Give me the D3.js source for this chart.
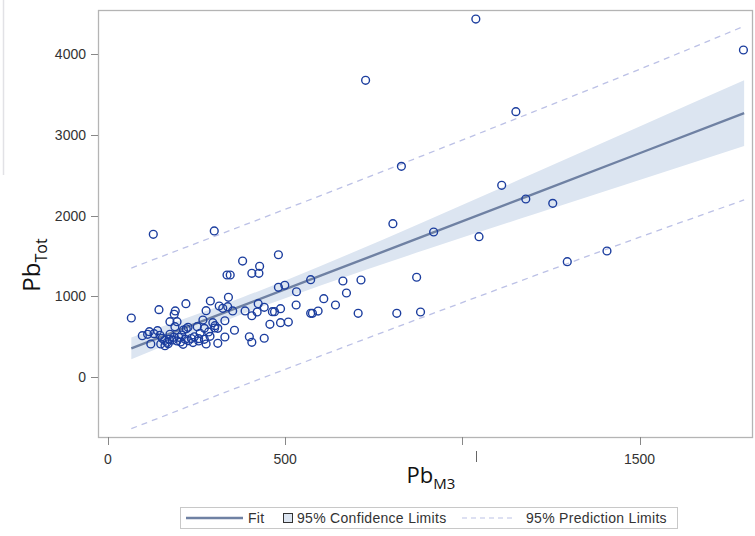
<!DOCTYPE html>
<html>
<head>
<meta charset="utf-8">
<script src="https://cdn.jsdelivr.net/npm/d3@7"></script>
<style>
  body { margin: 0; background: #fff; }
  svg { display: block; }
</style>
</head>
<body>
<div id="chart"></div>
<script>
// observations: Pb M3 vs Pb total
const pbM3 = [1038, 1793, 727, 1151, 828, 1111, 1179, 1255, 1047, 919, 804, 1296, 1408, 871, 128, 300,
  481, 572, 663, 714, 532, 673, 609, 531, 642, 572, 577, 593, 706, 815, 882, 487, 487, 509, 457, 441, 424, 421, 406, 441, 406, 399, 406, 426, 428, 499, 481,
  380, 336, 345,
  340, 289, 314, 324, 338, 277, 352, 330, 387, 464, 470, 357, 330, 302, 296, 268, 272, 284, 310, 252, 260, 256, 272, 277, 310, 288,
  66, 144, 190, 187, 220, 175, 195, 189, 97, 117, 112, 121, 140, 147, 153, 149, 161, 167, 173, 175, 182, 186, 200, 208, 213, 221, 226, 205, 212, 218, 227, 244, 256, 301,
  130, 160, 170, 195, 235, 240];
const pbTot = [4434, 4051, 3676, 3288, 2611, 2376, 2207, 2153, 1740, 1798, 1901, 1431, 1563, 1238, 1770, 1811,
  1517, 1208, 1192, 1204, 1059, 1043, 973, 895, 895, 792, 792, 820, 792, 792, 808, 849, 676, 684, 656, 866, 911, 808, 762, 483, 433, 502, 1287, 1287, 1374, 1139, 1114,
  1439, 1266, 1266,
  990, 944, 882, 854, 874, 824, 821, 700, 821, 812, 812, 582, 499, 639, 676, 709, 606, 561, 606, 626, 545, 449, 470, 412, 421, 507,
  734, 837, 821, 780, 911, 688, 688, 626, 515, 564, 532, 412, 577, 520, 483, 412, 391, 433, 470, 532, 462, 495, 495, 523, 585, 601, 619, 437, 408, 470, 453, 502, 478, 610,
  540, 455, 415, 450, 480, 430];

// fit line and limits, read at a few x positions
const bandX   = [66, 200, 380, 600, 900, 1200, 1500, 1795];
const fitY    = [358, 584, 887, 1257, 1763, 2268, 2773, 3270];
const ciLower = [222, 469, 784, 1136, 1584, 2015, 2441, 2863];
const ciUpper = [494, 699, 990, 1378, 1942, 2521, 3105, 3677];
const piLower = [-636, -408, -103, 265, 762, 1251, 1734, 2195];
const piUpper = [1352, 1576, 1877, 2249, 2764, 3285, 3812, 4345];

const xTicks = [0, 500, 1000, 1500];
const xTickLabels = ["0", "500", "", "1500"];
const yTicks = [0, 1000, 2000, 3000, 4000];

const width = 755, height = 536;
const mLeft = 98, mRight = 753, mTop = 10, mBottom = 437;

const svg = d3.select("#chart").append("svg")
    .attr("width", width)
    .attr("height", height);

const x = d3.scaleLinear().domain([-28, 1820]).range([mLeft, mRight]);
const y = d3.scaleLinear().domain([-739, 4546]).range([mBottom, mTop]);

const fontTick = "'Liberation Sans', Arial, sans-serif";
const fontTitle = "'Open Sans', 'Noto Sans', sans-serif";

// stray line at the far left
svg.append("line")
    .attr("x1", 3.5).attr("x2", 3.5).attr("y1", 0).attr("y2", 175)
    .attr("stroke", "#e2e2e6").attr("stroke-width", 1.5);

const band = bandX.map((d, i) => ({x: d, fit: fitY[i], cl: ciLower[i], cu: ciUpper[i], pl: piLower[i], pu: piUpper[i]}));

// confidence band
svg.append("path")
    .datum(band)
    .attr("fill", "#dce5f1")
    .attr("d", d3.area().curve(d3.curveMonotoneX)
        .x(d => x(d.x)).y0(d => y(d.cl)).y1(d => y(d.cu)));

// prediction limits
["pl", "pu"].forEach(k => {
    svg.append("path")
        .datum(band)
        .attr("fill", "none")
        .attr("stroke", "#bcc1e6")
        .attr("stroke-width", 1.3)
        .attr("stroke-dasharray", "6,5")
        .attr("d", d3.line().curve(d3.curveMonotoneX).x(d => x(d.x)).y(d => y(d[k])));
});

// fit line
svg.append("path")
    .datum(band)
    .attr("fill", "none")
    .attr("stroke", "#6f81a3")
    .attr("stroke-width", 2.4)
    .attr("d", d3.line().x(d => x(d.x)).y(d => y(d.fit)));

// points
svg.append("g")
    .selectAll("circle")
    .data(pbM3.map((d, i) => [d, pbTot[i]]))
    .enter().append("circle")
    .attr("cx", d => x(d[0]))
    .attr("cy", d => y(d[1]))
    .attr("r", 3.9)
    .attr("fill", "none")
    .attr("stroke", "#1b3d9e")
    .attr("stroke-width", 1.4);

// frame
svg.append("rect")
    .attr("x", mLeft + 0.5).attr("y", mTop + 0.5)
    .attr("width", mRight - mLeft - 1).attr("height", mBottom - mTop)
    .attr("fill", "none")
    .attr("stroke", "#b4b4b4")
    .attr("stroke-width", 1.3);

// y axis ticks
const yAxis = svg.append("g");
yAxis.selectAll("line")
    .data(yTicks).enter().append("line")
    .attr("x1", mLeft - 7).attr("x2", mLeft)
    .attr("y1", d => Math.round(y(d)) + 0.5).attr("y2", d => Math.round(y(d)) + 0.5)
    .attr("stroke", "#888");
yAxis.selectAll("text")
    .data(yTicks).enter().append("text")
    .attr("x", mLeft - 12)
    .attr("y", d => y(d))
    .attr("dy", "0.35em")
    .attr("text-anchor", "end")
    .attr("font-family", fontTick)
    .attr("font-size", 14)
    .attr("fill", "#333")
    .text(d => d);

// x axis ticks
const xAxis = svg.append("g");
xAxis.selectAll("line")
    .data(xTicks).enter().append("line")
    .attr("x1", d => Math.round(x(d)) + 0.5).attr("x2", d => Math.round(x(d)) + 0.5)
    .attr("y1", mBottom).attr("y2", mBottom + 8)
    .attr("stroke", "#888");
xAxis.selectAll("text")
    .data(xTicks).enter().append("text")
    .attr("x", d => x(d))
    .attr("y", mBottom + 27)
    .attr("text-anchor", "middle")
    .attr("font-family", fontTick)
    .attr("font-size", 14)
    .attr("fill", "#333")
    .text((d, i) => xTickLabels[i]);

// small mark where the 1000 label sits
svg.append("line")
    .attr("x1", 476.5).attr("x2", 476.5).attr("y1", 451).attr("y2", 462)
    .attr("stroke", "#666");

// axis titles
const yTitle = svg.append("text")
    .attr("transform", "translate(40,265)rotate(-90)")
    .attr("text-anchor", "middle")
    .attr("font-family", fontTitle)
    .attr("font-size", 24)
    .attr("fill", "#111");
yTitle.append("tspan").text("Pb");
yTitle.append("tspan").attr("dy", 7).attr("font-size", 16).text("Tot");

const xTitle = svg.append("text")
    .attr("x", 431)
    .attr("y", 483)
    .attr("text-anchor", "middle")
    .attr("font-family", fontTitle)
    .attr("font-size", 22)
    .attr("fill", "#111");
xTitle.append("tspan").text("Pb");
xTitle.append("tspan").attr("dy", 6).attr("font-size", 15).text("M3");

// legend
const legend = svg.append("g");
legend.append("rect")
    .attr("x", 180.5).attr("y", 507.5).attr("width", 497).attr("height", 21)
    .attr("fill", "#fff").attr("stroke", "#c8c8c8");
legend.append("line")
    .attr("x1", 186).attr("x2", 243).attr("y1", 518).attr("y2", 518)
    .attr("stroke", "#6f81a3").attr("stroke-width", 2.4);
legend.append("rect")
    .attr("x", 283.5).attr("y", 513.5).attr("width", 9).attr("height", 9)
    .attr("fill", "#dce5f1").attr("stroke", "#333").attr("stroke-width", 1);
legend.append("line")
    .attr("x1", 462).attr("x2", 515).attr("y1", 518).attr("y2", 518)
    .attr("stroke", "#bcc1e6").attr("stroke-width", 1.2).attr("stroke-dasharray", "5,4");
const legendText = [["Fit", 248], ["95% Confidence Limits", 297], ["95% Prediction Limits", 526]];
legend.selectAll("text")
    .data(legendText).enter().append("text")
    .attr("x", d => d[1])
    .attr("y", 518)
    .attr("dy", "0.35em")
    .attr("font-family", fontTick)
    .attr("font-size", 14)
    .attr("letter-spacing", 0.3)
    .attr("fill", "#333")
    .text(d => d[0]);
</script>
</body>
</html>
